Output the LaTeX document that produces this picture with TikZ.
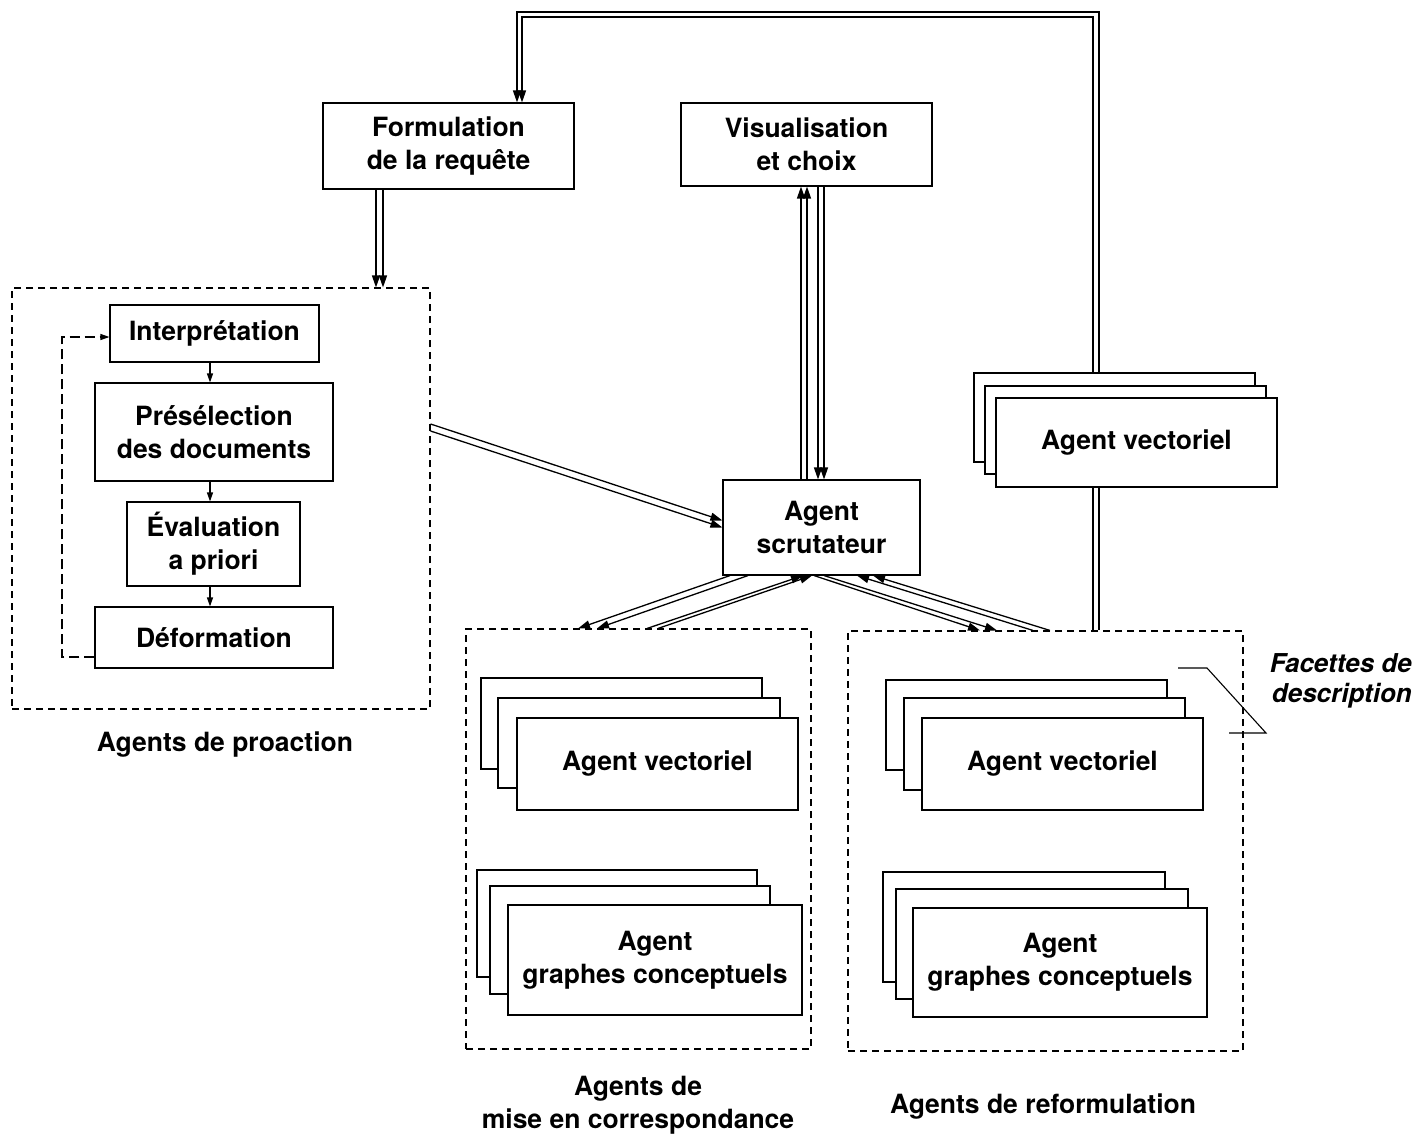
\documentclass[tikz,border=0pt]{standalone}
\usepackage{fontspec}
\setmainfont{TeX Gyre Heros}
\usetikzlibrary{arrows.meta,calc}
\begin{document}
\begin{tikzpicture}[x=1pt,y=-1pt,
  box/.style={draw, line width=1.1pt, fill=white, align=center, inner sep=0pt, font=\fontsize{26.5}{33}\selectfont\bfseries},
  grp/.style={draw, line width=1.1pt, dash pattern=on 7pt off 5pt, inner sep=0pt},
  lbl/.style={align=center, inner sep=0pt, font=\fontsize{26.5}{33}\selectfont\bfseries},
  arr/.style={line width=1.3pt, -{Triangle[length=12pt,width=8pt]}},
  sarr/.style={line width=1.1pt, -{Triangle[length=9pt,width=6pt]}}]
\useasboundingbox (0,0) rectangle (1422,1141);
% main boxes
\node[box, minimum width=251pt, minimum height=86pt] (form) at (448.5,146) {Formulation\\de la requête};
\node[box, minimum width=251pt, minimum height=83pt] (vis) at (806.5,144.5) {Visualisation\\et choix};
\node[grp, minimum width=418pt, minimum height=421pt] (proa) at (221,498.5) {};
\node[box, minimum width=209pt, minimum height=57pt] (interp) at (214.5,333.5) {Interprétation};
\node[box, minimum width=238pt, minimum height=98pt] (presel) at (214,432) {Présélection\\des documents};
\node[box, minimum width=173pt, minimum height=84pt] (eval) at (213.5,544) {Évaluation\\a priori};
\node[box, minimum width=238pt, minimum height=61pt] (deform) at (214,637.5) {Déformation};
\node[box, minimum width=197pt, minimum height=95pt] (scrut) at (821.5,527.5) {Agent\\scrutateur};
\node[grp, minimum width=345pt, minimum height=420pt] (corr) at (638.5,839) {};
\node[grp, minimum width=395pt, minimum height=420pt] (refo) at (1045.5,841) {};
% feedback loop (top)
\draw[arr] ($(refo.north)+(53.5,0)$) -- (1099,12) -- (517,12) -- ($(form.north)+(68.5,0)$);
\draw[arr] ($(refo.north)+(47.5,0)$) -- (1093,17) -- (522,17) -- ($(form.north)+(73.5,0)$);
% top-right stack (over the loop)
\node[box, minimum width=281pt, minimum height=89pt] (tv3) at (1114.5,417.5) {};
\node[box, minimum width=281pt, minimum height=88pt] (tv2) at (1125.5,430) {};
\node[box, minimum width=281pt, minimum height=89pt] (tv1) at (1136.5,442.5) {Agent vectoriel};
% mise en correspondance stacks
\node[box, minimum width=281pt, minimum height=91pt] (cv3) at (621.5,723.5) {};
\node[box, minimum width=282pt, minimum height=90pt] (cv2) at (639,743) {};
\node[box, minimum width=281pt, minimum height=92pt] (cv1) at (657.5,764) {Agent vectoriel};
\node[box, minimum width=280pt, minimum height=107pt] (cg3) at (617,923.5) {};
\node[box, minimum width=280pt, minimum height=108pt] (cg2) at (630,940) {};
\node[box, minimum width=294pt, minimum height=110pt] (cg1) at (655,960) {Agent\\graphes conceptuels};
% reformulation stacks
\node[box, minimum width=281pt, minimum height=90pt] (rv3) at (1026.5,725) {};
\node[box, minimum width=281pt, minimum height=92pt] (rv2) at (1044.5,744) {};
\node[box, minimum width=281pt, minimum height=92pt] (rv1) at (1062.5,764) {Agent vectoriel};
\node[box, minimum width=282pt, minimum height=110pt] (rg3) at (1024,927) {};
\node[box, minimum width=292pt, minimum height=110pt] (rg2) at (1042,944) {};
\node[box, minimum width=294pt, minimum height=109pt] (rg1) at (1060,962.5) {Agent\\graphes conceptuels};
% labels
\node[lbl] (lproa) at (225,745) {Agents de proaction};
\node[lbl] (lcorr) at (638,1105) {Agents de\\mise en correspondance};
\node[lbl] (lrefo) at (1043,1107) {Agents de reformulation};
\node[lbl, align=right, anchor=east, font=\fontsize{26}{30}\selectfont\bfseries\itshape] (fac) at (1412,681) {Facettes de\\description};
\draw[line width=1.1pt] (1178,668) -- (1207,668) -- (1266,733) -- (1229,733);
% formulation -> proaction
\draw[arr] ($(form.south)+(-72.5,0)$) -- ($(proa.north)+(155,0)$);
\draw[arr] ($(form.south)+(-65.5,0)$) -- ($(proa.north)+(162,0)$);
% visualisation <-> scrutateur
\draw[arr] ($(scrut.north)+(-20.5,0)$) -- ($(vis.south)+(-5.5,0)$);
\draw[arr] ($(scrut.north)+(-14.5,0)$) -- ($(vis.south)+(0.5,0)$);
\draw[arr] ($(vis.south)+(11.5,0)$) -- ($(scrut.north)+(-3.5,0)$);
\draw[arr] ($(vis.south)+(17.5,0)$) -- ($(scrut.north)+(2.5,0)$);
% proaction -> scrutateur
\draw[arr] ($(proa.east)+(0,-74.5)$) -- ($(scrut.west)+(0,-7)$);
\draw[arr] ($(proa.east)+(0,-67.5)$) -- ($(scrut.west)+(0,0)$);
% scrutateur <-> correspondance
\draw[arr] ($(scrut.south)+(-91.5,0)$) -- ($(corr.north)+(-60.5,0)$);
\draw[arr] ($(scrut.south)+(-73.5,0)$) -- ($(corr.north)+(-41.5,0)$);
\draw[arr] ($(corr.north)+(8.5,0)$) -- ($(scrut.south)+(-18.5,0)$);
\draw[arr] ($(corr.north)+(19.5,0)$) -- ($(scrut.south)+(-9.5,0)$);
% scrutateur <-> reformulation
\draw[arr] ($(scrut.south)+(-7.5,0)$) -- ($(refo.north)+(-65.5,0)$);
\draw[arr] ($(scrut.south)+(2.5,0)$) -- ($(refo.north)+(-48.5,0)$);
\draw[arr] ($(refo.north)+(-12.5,0)$) -- ($(scrut.south)+(35.5,0)$);
\draw[arr] ($(refo.north)+(4.5,0)$) -- ($(scrut.south)+(51.5,0)$);
% proaction internal
\draw[sarr] ($(interp.south)+(-4.5,0)$) -- ($(presel.north)+(-4,0)$);
\draw[sarr] ($(presel.south)+(-4,0)$) -- ($(eval.north)+(-3.5,0)$);
\draw[sarr] ($(eval.south)+(-3.5,0)$) -- ($(deform.north)+(-4,0)$);
\draw[line width=1.1pt, dash pattern=on 10pt off 5pt, -{Triangle[length=9pt,width=6pt]}] ($(deform.west)+(0,19.5)$) -- (62,657) -- (62,337) -- ($(interp.west)+(0,3.5)$);
\end{tikzpicture}
\end{document}
